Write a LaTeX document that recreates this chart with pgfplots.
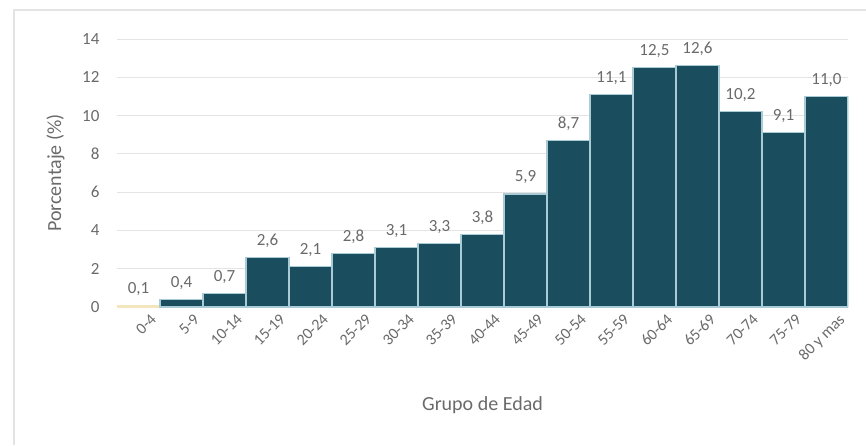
\documentclass[border=0pt]{standalone}
\usepackage{pgfplots}
\pgfplotsset{compat=1.18}
\usepackage{fontspec}
\setmainfont{Carlito}
\definecolor{barc}{HTML}{1A4E5F}
\definecolor{sep}{HTML}{A8CBD6}
\definecolor{txt}{HTML}{6A6A6A}
\definecolor{gridc}{HTML}{E4E4E4}
\definecolor{basec}{HTML}{F3E6BE}
\begin{document}
\begin{tikzpicture}[x=1pt,y=1pt]
\useasboundingbox (0,0) rectangle (866,445);
\draw[color=gridc, line width=1.5pt] (14,0) -- (14,435) -- (866,435);
\begin{axis}[
  at={(117pt,138pt)}, anchor=south west,
  scale only axis, width=731pt, height=268pt,
  xmin=-0.5, xmax=16.5, ymin=0, ymax=14,
  ytick={0,2,...,14},
  xtick={0,...,16},
  xticklabels={0-4,5-9,10-14,15-19,20-24,25-29,30-34,35-39,40-44,45-49,50-54,55-59,60-64,65-69,70-74,75-79,80 y mas},
  x tick label style={rotate=45, anchor=north east, inner sep=0pt, yshift=-12pt, xshift=4pt, font=\fontsize{16}{18}\selectfont},
  y tick label style={font=\fontsize{17}{20}\selectfont, xshift=-14pt},
  tick label style={text=txt},
  /pgf/number format/assume math mode=true,
  axis x line*=bottom, axis y line*=left,
  x axis line style={draw=basec, line width=1.2pt},
  y axis line style={draw=none},
  major tick length=0pt,
  ymajorgrids, grid style={draw=gridc, line width=1pt},
  ylabel={Porcentaje (\%)}, xlabel={Grupo de Edad},
  label style={font=\fontsize{20}{24}\selectfont, text=txt},
  ylabel style={at={(axis description cs:0,0.5)}, anchor=south, yshift=49pt},
  xlabel style={at={(axis description cs:0.5,0)}, yshift=-86pt, anchor=north},
  ybar, bar width=1,
  nodes near coords={\pgfmathprintnumber[assume math mode=true,use comma,fixed,fixed zerofill,precision=1]{\pgfplotspointmeta}},
  every node near coord/.append style={font=\fontsize{17}{20}\selectfont, text=txt, yshift=6pt},
]
\addplot[fill=basec, draw=none, bar shift=0pt] coordinates {(0,0.1)};
\addplot[fill=barc, draw=sep, line width=1.2pt, bar shift=0pt] coordinates {
(1,0.4) (2,0.7) (3,2.6) (4,2.1) (5,2.8) (6,3.1) (7,3.3) (8,3.8) (9,5.9)
(10,8.7) (11,11.1) (12,12.5) (13,12.6) (14,10.2) (15,9.1) (16,11.0)};
\end{axis}
\end{tikzpicture}
\end{document}
